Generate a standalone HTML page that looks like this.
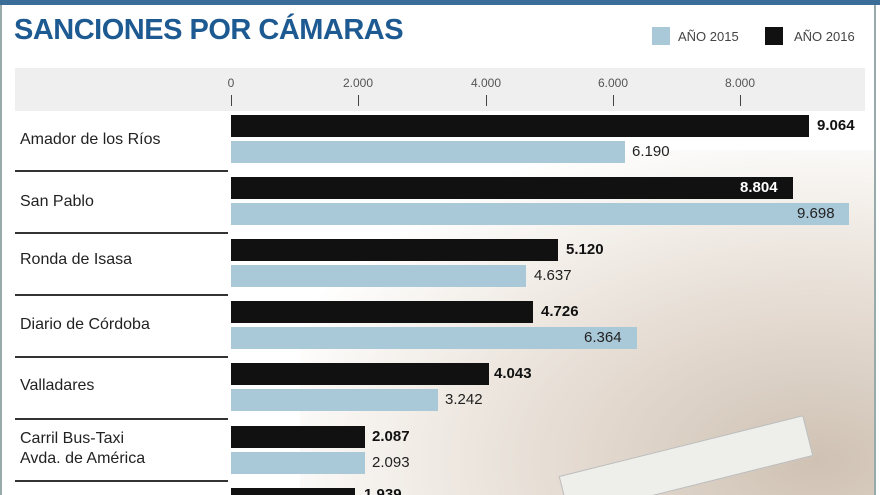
<!DOCTYPE html>
<html style="overflow:hidden;width:880px;height:495px"><head><meta charset="utf-8"><style>
html,body{margin:0;width:880px;height:495px;overflow:hidden}
body{background:#fff;font-family:"Liberation Sans",sans-serif;position:relative}
#w{position:absolute;left:0;top:0;width:880px;height:495px;overflow:hidden}
.a{position:absolute}
.d{position:absolute;background:#111;height:22px;left:231px}
.l{position:absolute;background:#a9c8d8;height:22px;left:231px}
.v{position:absolute;font-size:15px;color:#222;line-height:22px}
.b{font-weight:bold;color:#111}
.lab{position:absolute;left:20px;font-size:16px;color:#222;line-height:20px}
.sep{position:absolute;left:15px;width:213px;height:2px;background:#333}
.t{position:absolute;top:76px;font-size:12px;color:#555;transform:translateX(-50%)}
.tk{position:absolute;top:95px;width:1px;height:11px;background:#444}
</style></head><body><div id="w">
<div class="a" style="left:0;top:0;width:880px;height:5px;background:#3a6d98"></div>
<div class="a" style="left:0;top:5px;width:2px;height:490px;background:#9aa"></div>
<div class="a" style="left:874px;top:5px;width:2px;height:490px;background:#9aa"></div>
<div class="a" style="left:300px;top:150px;width:574px;height:345px;background:radial-gradient(ellipse at 90% 90%,#cfc2b4 0%,#e2d8ce 30%,#f1ece6 55%,#fff 78%)"></div>
<div class="a" style="left:560px;top:445px;width:250px;height:40px;background:#eeeeea;transform:rotate(-14deg);border:1px solid #bbb"></div>
<div class="a" style="left:14px;top:14px;font-size:29px;font-weight:bold;color:#1e5a92;letter-spacing:-0.5px">SANCIONES POR CÁMARAS</div>
<div class="a" style="left:652px;top:27px;width:18px;height:18px;background:#a9c8d8"></div>
<div class="a" style="left:678px;top:29px;font-size:13px;color:#444">AÑO 2015</div>
<div class="a" style="left:765px;top:27px;width:18px;height:18px;background:#111"></div>
<div class="a" style="left:794px;top:29px;font-size:13px;color:#444">AÑO 2016</div>
<div class="a" style="left:15px;top:68px;width:850px;height:43px;background:#efefef"></div>
<div class="t" style="left:231px">0</div><div class="tk" style="left:231px"></div>
<div class="t" style="left:358px">2.000</div><div class="tk" style="left:358px"></div>
<div class="t" style="left:486px">4.000</div><div class="tk" style="left:486px"></div>
<div class="t" style="left:613px">6.000</div><div class="tk" style="left:613px"></div>
<div class="t" style="left:740px">8.000</div><div class="tk" style="left:740px"></div>

<div class="lab" style="top:130px">Amador de los Ríos</div>
<div class="d" style="top:115px;width:578px"></div><div class="v b" style="left:817px;top:115px">9.064</div>
<div class="l" style="top:141px;width:394px"></div><div class="v" style="left:632px;top:141px">6.190</div>
<div class="sep" style="top:170px"></div>

<div class="lab" style="top:192px">San Pablo</div>
<div class="d" style="top:177px;width:562px"></div><div class="v b" style="left:740px;top:177px;color:#fff">8.804</div>
<div class="l" style="top:203px;width:618px"></div><div class="v" style="left:797px;top:203px">9.698</div>
<div class="sep" style="top:232px"></div>

<div class="lab" style="top:250px">Ronda de Isasa</div>
<div class="d" style="top:239px;width:327px"></div><div class="v b" style="left:566px;top:239px">5.120</div>
<div class="l" style="top:265px;width:295px"></div><div class="v" style="left:534px;top:265px">4.637</div>
<div class="sep" style="top:294px"></div>

<div class="lab" style="top:315px">Diario de Córdoba</div>
<div class="d" style="top:301px;width:302px"></div><div class="v b" style="left:541px;top:301px">4.726</div>
<div class="l" style="top:327px;width:406px"></div><div class="v" style="left:584px;top:327px">6.364</div>
<div class="sep" style="top:356px"></div>

<div class="lab" style="top:376px">Valladares</div>
<div class="d" style="top:363px;width:258px"></div><div class="v b" style="left:494px;top:363px">4.043</div>
<div class="l" style="top:389px;width:207px"></div><div class="v" style="left:445px;top:389px">3.242</div>
<div class="sep" style="top:418px"></div>

<div class="lab" style="top:429px">Carril Bus-Taxi<br>Avda. de América</div>
<div class="d" style="top:426px;width:134px"></div><div class="v b" style="left:372px;top:426px">2.087</div>
<div class="l" style="top:452px;width:134px"></div><div class="v" style="left:372px;top:452px">2.093</div>
<div class="sep" style="top:480px"></div>

<div class="d" style="top:488px;width:124px;height:7px"></div>
<div class="a" style="left:364px;top:488px;width:50px;height:7px;overflow:hidden"><div class="v b" style="left:0;top:-2px;line-height:18px">1.939</div></div>
</div></body></html>
